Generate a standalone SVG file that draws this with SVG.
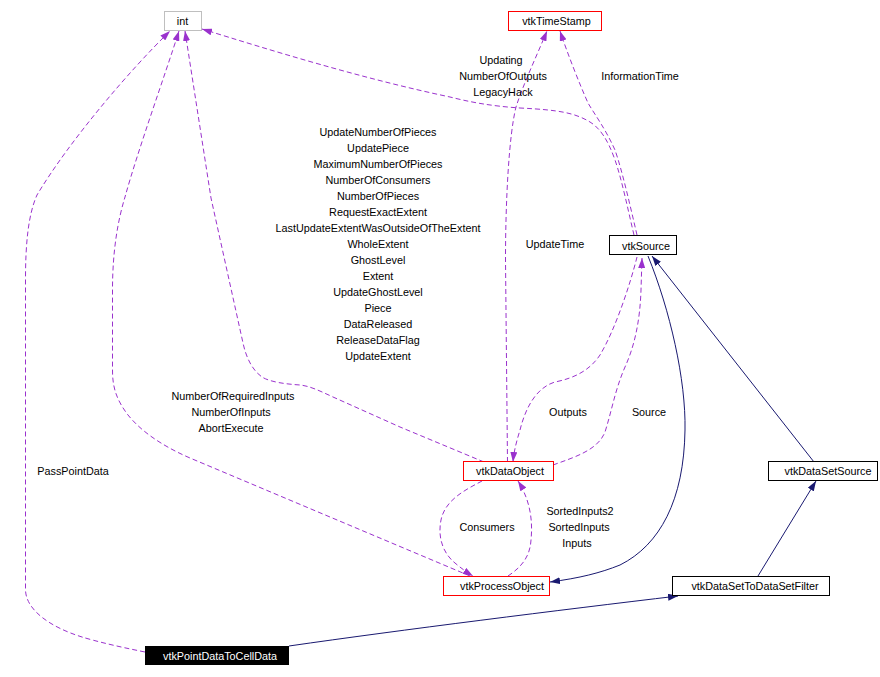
<svg xmlns="http://www.w3.org/2000/svg" width="880" height="677" viewBox="0 0 880 677">
<style>
text{font-family:"Liberation Sans",Arial,sans-serif;font-size:10.8px;fill:#000;text-anchor:middle}
.n{fill:#fff;stroke:#000;stroke-width:1}
.r{stroke:#ff0000}
.g{stroke:#bfbfbf}
.blk{fill:#000}
.wt{fill:#fff}
.u{fill:none;stroke:#9a32cd;stroke-width:1;stroke-dasharray:5,3;marker-end:url(#ap)}
.i{fill:none;stroke:#191970;stroke-width:1;marker-end:url(#ab)}
</style>
<defs>
<marker id="ap" viewBox="0 0 10 7" refX="10" refY="3.5" markerWidth="10" markerHeight="7" markerUnits="userSpaceOnUse" orient="auto"><path d="M0,0L10,3.5L0,7z" fill="#9a32cd"/></marker>
<marker id="ab" viewBox="0 0 10 7" refX="10" refY="3.5" markerWidth="10" markerHeight="7" markerUnits="userSpaceOnUse" orient="auto"><path d="M0,0L10,3.5L0,7z" fill="#191970"/></marker>
</defs>
<rect width="880" height="677" fill="#fff"/>
<g id="connectors">
<path class="u" d="M145,652 C115,646 95,641 82,637 C50,627 26,610 25.5,590 L25.5,280 C25.5,245 28,215 37,195 C70,140 130,70 170,31"/>
<path class="u" d="M470,576 L190,458 C160,445 140,430 128,415 C115,398 112.5,385 112.5,370 L112.5,290 C112.5,250 118,220 125,197 C138,150 165,75 179,31"/>
<path class="u" d="M484,462 L400,427 L333,397 C320,391 310,386 300,385 C285,384 270,382 262,377 C252,370 246,357 243,343 L211,198 L185,31"/>
<path class="u" d="M634,235 C628,210 622,180 615,160 C608,140 600,128 590,122 C575,113 560,110 520,108 C490,106 470,102 450,97 C360,78 270,50 202,29"/>
<path class="u" d="M637,235 C630,205 622,170 615,150 C605,128 595,115 588,103 C580,85 568,55 560,31"/>
<path class="u" d="M507.5,462 L505.5,260 C505.5,200 509,135 516,107 C523,85 537,55 547,31"/>
<path class="u" d="M637,257 C630,285 615,330 600,355 C590,370 575,378 555,382 C535,388 525,410 520,430 C517,440 514,450 513,462"/>
<path class="u" d="M553,465 C575,457 598,450 605,432 C612,410 615,390 625,367 C635,345 640,320 641,290 L642,258"/>
<path class="u" d="M482,481 C465,490 445,500 441,520 C437,540 445,555 455,563 C462,569 468,573 473,576"/>
<path class="u" d="M508,576 C520,568 530,558 531,540 C533,520 530,500 518,481"/>
<path class="i" d="M289,646 C400,630 560,610 678,596"/>
<path class="i" d="M758,576 L816,481"/>
<path class="i" d="M814,462 L652,256"/>
<path class="i" d="M648,256 C670,310 686,380 685,430 C684,500 660,545 620,565 C600,573 580,578 550,582"/>
</g>
<g id="labels">
<text x="501" y="64">Updating</text>
<text x="503" y="80">NumberOfOutputs</text>
<text x="503" y="96">LegacyHack</text>
<text x="640" y="80">InformationTime</text>
<text x="378" y="136">UpdateNumberOfPieces</text>
<text x="378" y="152">UpdatePiece</text>
<text x="378" y="168">MaximumNumberOfPieces</text>
<text x="378" y="184">NumberOfConsumers</text>
<text x="378" y="200">NumberOfPieces</text>
<text x="378" y="216">RequestExactExtent</text>
<text x="378" y="232">LastUpdateExtentWasOutsideOfTheExtent</text>
<text x="378" y="248">WholeExtent</text>
<text x="378" y="264">GhostLevel</text>
<text x="378" y="280">Extent</text>
<text x="378" y="296">UpdateGhostLevel</text>
<text x="378" y="312">Piece</text>
<text x="378" y="328">DataReleased</text>
<text x="378" y="344">ReleaseDataFlag</text>
<text x="378" y="360">UpdateExtent</text>
<text x="555" y="248">UpdateTime</text>
<text x="568" y="416">Outputs</text>
<text x="649" y="416">Source</text>
<text x="233" y="400">NumberOfRequiredInputs</text>
<text x="231" y="416">NumberOfInputs</text>
<text x="231" y="432">AbortExecute</text>
<text x="73" y="475">PassPointData</text>
<text x="487" y="531">Consumers</text>
<text x="580" y="515">SortedInputs2</text>
<text x="579" y="531">SortedInputs</text>
<text x="577" y="547">Inputs</text>
</g>
<g id="int"><rect class="n g" x="164.5" y="11.5" width="37" height="19"/><text x="182.5" y="25">int</text></g>
<g id="vtkTimeStamp"><rect class="n r" x="508.5" y="11.5" width="93" height="19"/><text x="556.5" y="25">vtkTimeStamp</text></g>
<g id="vtkSource"><rect class="n" x="609.5" y="235.5" width="67" height="19"/><text x="646" y="249.5">vtkSource</text></g>
<g id="vtkDataObject"><rect class="n r" x="463.5" y="461.5" width="90" height="19"/><text x="510" y="475">vtkDataObject</text></g>
<g id="vtkDataSetSource"><rect class="n" x="768.5" y="461.5" width="109" height="19"/><text x="828" y="475">vtkDataSetSource</text></g>
<g id="vtkProcessObject"><rect class="n r" x="443.5" y="576.5" width="106" height="19"/><text x="502" y="590">vtkProcessObject</text></g>
<g id="vtkDataSetToDataSetFilter"><rect class="n" x="672.5" y="576.5" width="157" height="19"/><text x="755" y="590">vtkDataSetToDataSetFilter</text></g>
<g id="vtkPointDataToCellData"><rect class="blk" x="145" y="646" width="144" height="19"/><text class="wt" x="220" y="660">vtkPointDataToCellData</text></g>
</svg>
